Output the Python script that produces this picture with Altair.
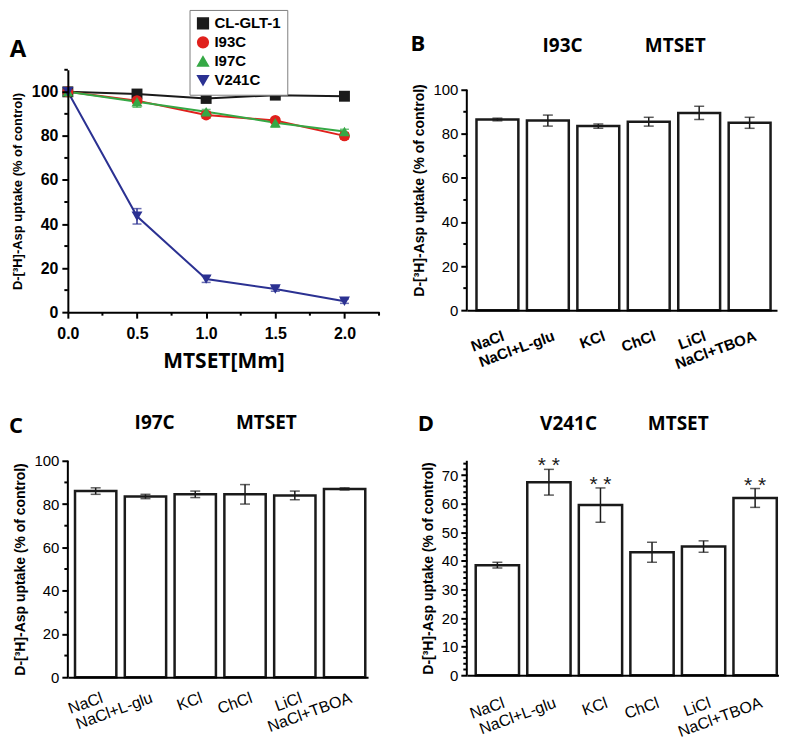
import altair as alt
import pandas as pd

# ---------------- data ----------------
doses = [0.0, 0.5, 1.0, 1.5, 2.0]
series_names = ["CL-GLT-1", "I93C", "I97C", "V241C"]
series_colors = ["#1a1a1a", "#e0201c", "#35a845", "#2b3192"]
series_shapes = ["square", "circle", "triangle-up", "triangle-down"]
cl_glt1 = [100, 99, 97, 98.5, 98]
i93c = [100, 96, 89.5, 87, 80]
i97c = [100, 95.5, 91, 86, 82]
v241c = [100, 43.5, 15, 10.5, 5]
cl_glt1_err = [0.5, 0.5, 0.8, 0.8, 0.6]
i93c_err = [0.5, 1.0, 1.5, 1.0, 1.5]
i97c_err = [0.5, 2.5, 1.0, 2.0, 1.0]
v241c_err = [0.5, 3.5, 1.5, 1.0, 1.0]

conditions = ["NaCl", "NaCl+L-glu", "KCl", "ChCl", "LiCl", "NaCl+TBOA"]
b_vals = [86.5, 86, 83.5, 85.5, 89.5, 85]
b_err = [0.6, 2.5, 1.0, 2.0, 3.0, 2.5]
c_vals = [86, 83.5, 84.5, 84.5, 84, 87]
c_err = [1.5, 1.0, 1.5, 4.5, 2.0, 0.5]
d_vals = [38.5, 67.5, 59.5, 43, 45, 62]
d_err = [1.0, 4.5, 6.0, 3.5, 2.0, 3.3]
d_sig = ["", "* *", "* *", "", "", "* *"]

YTITLE = "D-[³H]-Asp uptake (% of control)"
FONT = "Liberation Sans"
TFONT = "Open Sans"
one = pd.DataFrame({"t": [""]})


def spacer(L, T, W, H, R, B):
    return alt.Chart(one).mark_rect(color="white").encode(
        x=alt.value(-L), x2=alt.value(W + R), y=alt.value(-T), y2=alt.value(H + B))


def label(text, x, y, size):
    return alt.Chart(pd.DataFrame({"t": [text]})).mark_text(
        font=TFONT, fontSize=size, fontWeight="bold", align="center",
        baseline="middle", color="black").encode(
        x=alt.value(x), y=alt.value(y), text="t:N")


# ---------------- panel A ----------------
rows = []
for name, vals, errs in zip(series_names, [cl_glt1, i93c, i97c, v241c],
                            [cl_glt1_err, i93c_err, i97c_err, v241c_err]):
    for d, v, e in zip(doses, vals, errs):
        rows.append({"dose": d, "value": v, "lo": v - e, "hi": v + e, "series": name})
df_a = pd.DataFrame(rows)

LA, TA, WA, HA, RA, BA = 58, 60, 312, 243, 15, 72
xs_a = alt.Scale(domain=[0, 2.25], nice=False, zero=False)
ys_a = alt.Scale(domain=[0, 110], nice=False)
cs_a = alt.Scale(domain=series_names, range=series_colors)
ss_a = alt.Scale(domain=series_names, range=series_shapes)
leg = alt.Legend(title=None, orient="none", legendX=122, legendY=-60,
                 strokeColor="#7f7f7f", fillColor="white", padding=6,
                 labelFont=FONT, labelFontSize=15, labelFontWeight="bold",
                 labelColor="black", symbolSize=115, rowPadding=2,
                 symbolStrokeWidth=1.5, symbolOpacity=1)
xax_a = alt.Axis(title="MTSET[Mm]", values=doses, format=".1f", labelFlush=False,
                 titleFont=TFONT, titleFontSize=21, titleFontWeight="bold", titleColor="black",
                 labelFont=FONT, labelFontSize=16, labelFontWeight="bold", labelColor="black",
                 tickSize=6, tickWidth=2, tickColor="black", domainColor="black",
                 domainWidth=2, labelPadding=7, titlePadding=9, grid=False, zindex=1)
yax_a = alt.Axis(title=YTITLE, values=[0, 20, 40, 60, 80, 100],
                 titleFont=FONT, titleFontSize=13, titleFontWeight="bold", titleColor="black",
                 labelFont=FONT, labelFontSize=16, labelFontWeight="bold", labelColor="black",
                 tickSize=6, tickWidth=2, tickColor="black", domainColor="black",
                 domainWidth=2, labelPadding=4, titlePadding=7, grid=False, zindex=1)


def XA(f):
    return alt.X(f, type="quantitative", scale=xs_a, axis=xax_a)


def YA(f):
    return alt.Y(f, type="quantitative", scale=ys_a, axis=yax_a)


col_a = alt.Color("series:N", scale=cs_a, legend=leg)
base_a = alt.Chart(df_a)
line_a = base_a.mark_line(strokeWidth=2).encode(x=XA("dose"), y=YA("value"), color=col_a)
minor_y_a = alt.Chart(pd.DataFrame({"value": [10, 30, 50, 70, 90, 110]})).mark_rule(
    color="black", strokeWidth=2).encode(y=YA("value"), x=alt.value(-3.5), x2=alt.value(0))
minor_x_a = alt.Chart(pd.DataFrame({"dose": [0.25, 0.75, 1.25, 1.75, 2.25]})).mark_rule(
    color="black", strokeWidth=2).encode(x=XA("dose"), y=alt.value(HA), y2=alt.value(HA + 3.5))
err_a = base_a.mark_rule(strokeWidth=1.5).encode(x=XA("dose"), y=YA("lo"), y2="hi:Q", color=col_a)
cap_lo_a = base_a.mark_tick(orient="horizontal", size=9, thickness=1.5).encode(
    x=XA("dose"), y=YA("lo"), color=col_a)
cap_hi_a = base_a.mark_tick(orient="horizontal", size=9, thickness=1.5).encode(
    x=XA("dose"), y=YA("hi"), color=col_a)
pts_a = base_a.mark_point(filled=True, size=120, opacity=1).encode(
    x=XA("dose"), y=YA("value"), color=col_a,
    shape=alt.Shape("series:N", scale=ss_a, legend=leg))

panel_a = alt.layer(
    spacer(LA, TA, WA, HA, RA, BA), line_a, minor_y_a, minor_x_a, err_a, cap_lo_a, cap_hi_a,
    pts_a, label("A", -50, -20, 24)
).properties(width=WA, height=HA)


# ---------------- bar panels ----------------
def bar_panel(vals, errs, ymax, ytop, major, minor, geo, band, xlab, texts, sig=None):
    L, T, W, H, R, B = geo
    pi, po, al = band
    lsize, lweight, lpad = xlab
    df = pd.DataFrame({"cond": conditions, "value": vals,
                       "lo": [v - e for v, e in zip(vals, errs)],
                       "hi": [v + e for v, e in zip(vals, errs)],
                       "sig": sig if sig else [""] * len(vals)})
    ys = alt.Scale(domain=[0, ytop], nice=False)
    xs = alt.Scale(domain=conditions, paddingInner=pi, paddingOuter=po, align=al)
    xaxis = alt.Axis(title=None, labels=False, ticks=False,
                     domainColor="black", domainWidth=2, zindex=1)
    yaxis = alt.Axis(title=YTITLE, values=major, titleFont=FONT, titleFontSize=14,
                     titleFontWeight="bold", titleColor="black", labelFont=FONT,
                     labelFontSize=15, labelColor="black", tickSize=6, tickWidth=2,
                     tickColor="black", domain=False, labelPadding=3, titlePadding=6,
                     grid=False, zindex=1)

    def X():
        return alt.X("cond:N", sort=conditions, scale=xs, axis=xaxis)

    def Y(f):
        return alt.Y(f, type="quantitative", scale=ys, axis=yaxis)

    base = alt.Chart(df)
    bars = base.mark_bar(fill="white", stroke="#1a1a1a", strokeWidth=2.5).encode(
        x=X(), y=Y("value"))
    yline = alt.Chart(pd.DataFrame({"value": [0], "hi": [ymax]})).mark_rule(
        color="black", strokeWidth=2).encode(x=alt.value(0), y=Y("value"), y2="hi:Q")
    minor_t = alt.Chart(pd.DataFrame({"value": minor})).mark_rule(
        color="black", strokeWidth=2).encode(y=Y("value"), x=alt.value(-3.5), x2=alt.value(0))
    err = base.mark_rule(color="#1a1a1a", strokeWidth=1.5).encode(
        x=X(), y=Y("lo"), y2="hi:Q")
    cap_lo = base.mark_tick(color="#1a1a1a", size=10, thickness=1.5).encode(
        x=X(), y=Y("lo"))
    cap_hi = base.mark_tick(color="#1a1a1a", size=10, thickness=1.5).encode(
        x=X(), y=Y("hi"))
    xlabels = base.mark_text(font=FONT, fontSize=lsize, fontWeight=lweight, color="black",
                             angle=340, align="right", baseline="top", dx=4).encode(
        x=X(), y=alt.value(H + lpad), text="cond:N")
    layers = [spacer(L, T, W, H, R, B), bars, minor_t, err, cap_lo, cap_hi, yline, xlabels]
    if sig:
        stars = base.mark_text(font=FONT, fontSize=21, color="#1a1a1a", baseline="alphabetic",
                               dy=3).encode(x=X(), y=Y("hi"), text="sig:N")
        layers.append(stars)
    for t, x, y, s in texts:
        layers.append(label(t, x, y, s))
    return alt.layer(*layers).properties(width=W, height=H)


odd10 = [10, 30, 50, 70, 90]
panel_b = bar_panel(b_vals, b_err, 100, 109.05, [0, 20, 40, 60, 80, 100], odd10,
                    (73, 60, 311, 241, 2, 74), (0.17, 0.16, 0.6), (15, "bold", 20),
                    [("B", -49, -26, 22), ("I93C", 96, -24, 19), ("MTSET", 209, -24, 19)])
panel_c = bar_panel(c_vals, c_err, 100, 100, [0, 20, 40, 60, 80, 100], odd10,
                    (58, 77, 301, 217, 26, 63), (0.17, 0.1, 0.72), (16, "normal", 14),
                    [("C", -52, -35, 22), ("I97C", 87, -38, 19), ("MTSET", 199, -38, 19)])
minor_d = [v for v in range(2, 76, 2) if v % 10 != 0]
panel_d = bar_panel(d_vals, d_err, 75, 75, [0, 10, 20, 30, 40, 50, 60, 70], minor_d,
                    (73, 77, 313, 215, 0, 65), (0.16, 0.108, 0.8), (16, "normal", 21),
                    [("D", -41, -37, 22), ("V241C", 102, -37, 19), ("MTSET", 212, -37, 19)],
                    sig=d_sig)

chart = alt.vconcat(
    alt.hconcat(panel_a, panel_b, spacing=0),
    alt.hconcat(panel_c, panel_d, spacing=0),
    spacing=0,
).properties(padding=0).configure_view(stroke=None)

chart.save("out.html", embed_options={"renderer": "svg", "actions": False})
